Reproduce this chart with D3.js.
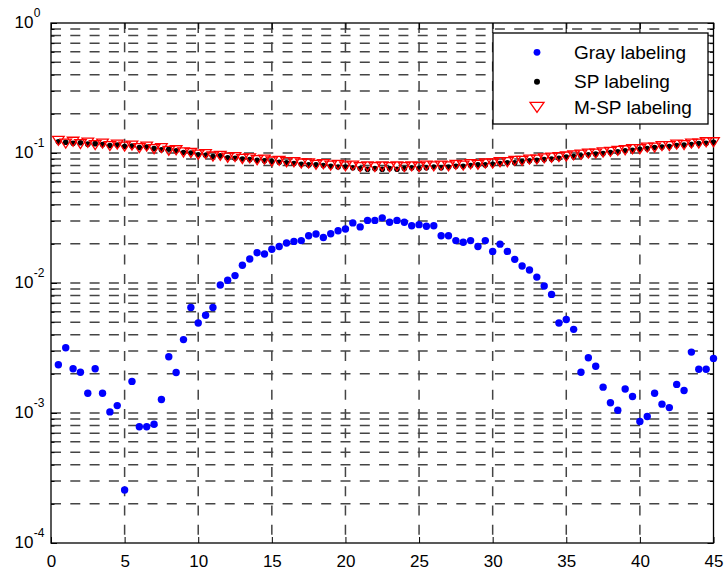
<!DOCTYPE html>
<html>
<head>
<meta charset="utf-8">
<script src="https://cdn.jsdelivr.net/npm/d3@7"></script>
<style>
  html, body { margin: 0; padding: 0; background: #fff; }
  svg { display: block; font-family: Arial, "Liberation Sans", Helvetica, sans-serif; }
</style>
</head>
<body>
<svg id="chart" width="726" height="571"></svg>
<script>
// ---------------- data ----------------
const xValues = d3.range(1, 91).map(i => i / 2); // 0.5 .. 45 (step 0.5)

const grayLabeling = [
  2.35e-3, 3.18e-3, 2.19e-3, 2.06e-3, 1.42e-3, 2.19e-3, 1.42e-3, 1.02e-3, 1.14e-3, 2.56e-4,
  1.75e-3, 7.83e-4, 7.83e-4, 8.2e-4, 1.27e-3, 2.71e-3, 2.05e-3, 3.67e-3, 6.48e-3, 4.93e-3,
  5.65e-3, 6.48e-3, 9.64e-3, 1.05e-2, 1.14e-2, 1.37e-2, 1.53e-2, 1.71e-2, 1.67e-2, 1.82e-2,
  1.91e-2, 2.03e-2, 2.09e-2, 2.12e-2, 2.31e-2, 2.38e-2, 2.24e-2, 2.39e-2, 2.52e-2, 2.60e-2,
  2.90e-2, 2.70e-2, 3.03e-2, 3.03e-2, 3.17e-2, 2.93e-2, 3.03e-2, 2.93e-2, 2.76e-2, 2.81e-2,
  2.73e-2, 2.76e-2, 2.31e-2, 2.31e-2, 2.12e-2, 2.06e-2, 2.12e-2, 1.91e-2, 2.12e-2, 1.75e-2,
  1.99e-2, 1.75e-2, 1.52e-2, 1.35e-2, 1.26e-2, 1.11e-2, 9.48e-3, 8.17e-3, 4.93e-3, 5.24e-3,
  4.40e-3, 2.06e-3, 2.66e-3, 2.29e-3, 1.58e-3, 1.20e-3, 1.05e-3, 1.53e-3, 1.34e-3, 8.6e-4,
  9.4e-4, 1.42e-3, 1.17e-3, 1.10e-3, 1.66e-3, 1.49e-3, 2.94e-3, 2.17e-3, 2.17e-3, 2.63e-3
];

const spLabeling = [
  0.122, 0.121, 0.119, 0.120, 0.117, 0.118, 0.116, 0.114, 0.115, 0.112,
  0.113, 0.110, 0.111, 0.108, 0.106, 0.107, 0.104, 0.101, 0.100, 0.097,
  0.096, 0.094, 0.095, 0.092, 0.091, 0.090, 0.089, 0.088, 0.087, 0.086,
  0.085, 0.084, 0.083, 0.082, 0.081, 0.081, 0.080, 0.079, 0.078, 0.078,
  0.077, 0.076, 0.075, 0.076, 0.075, 0.076, 0.075, 0.076, 0.077, 0.076,
  0.077, 0.078, 0.077, 0.078, 0.079, 0.079, 0.080, 0.081, 0.081, 0.082,
  0.083, 0.084, 0.084, 0.086, 0.087, 0.088, 0.089, 0.090, 0.091, 0.093,
  0.094, 0.095, 0.097, 0.098, 0.099, 0.101, 0.102, 0.104, 0.105, 0.107,
  0.108, 0.110, 0.111, 0.112, 0.114, 0.115, 0.116, 0.118, 0.119, 0.121
];

const mspLabeling = [
  0.124, 0.118, 0.122, 0.117, 0.120, 0.115, 0.118, 0.113, 0.116, 0.112,
  0.114, 0.109, 0.112, 0.107, 0.109, 0.104, 0.105, 0.101, 0.100, 0.097,
  0.098, 0.094, 0.095, 0.092, 0.093, 0.090, 0.091, 0.088, 0.089, 0.086,
  0.087, 0.085, 0.085, 0.083, 0.083, 0.081, 0.082, 0.080, 0.081, 0.079,
  0.080, 0.078, 0.079, 0.078, 0.079, 0.078, 0.079, 0.078, 0.079, 0.078,
  0.080, 0.079, 0.080, 0.079, 0.081, 0.080, 0.082, 0.081, 0.083, 0.083,
  0.085, 0.085, 0.087, 0.087, 0.089, 0.089, 0.091, 0.092, 0.093, 0.094,
  0.096, 0.097, 0.099, 0.099, 0.101, 0.102, 0.104, 0.105, 0.107, 0.107,
  0.110, 0.110, 0.113, 0.113, 0.116, 0.115, 0.118, 0.118, 0.121, 0.121
];

const seriesNames = ["Gray labeling", "SP labeling", "M-SP labeling"];
const xTicks = [0, 5, 10, 15, 20, 25, 30, 35, 40, 45];
const yDecades = [1e-4, 1e-3, 1e-2, 1e-1, 1];
const yDecadeExponents = ["-4", "-3", "-2", "-1", "0"];

// ---------------- layout ----------------
const L = 51, R = 713.5, T = 23, B = 543;
const svg = d3.select("#chart");
const x = d3.scaleLinear().domain([0, 45]).range([L, R]);
const y = d3.scaleLog().domain([1e-4, 1]).range([B, T]);

// minor values (2..9 x 10^k)
const minorVals = [];
for (let k = -4; k < 0; k++) for (let m = 2; m <= 9; m++) minorVals.push(m * Math.pow(10, k));

// ---------------- grid ----------------
const grid = svg.append("g").attr("stroke", "#444").attr("stroke-width", 1.5)
  .attr("stroke-dasharray", "10,9.3").attr("fill", "none");
grid.selectAll("line.h").data(minorVals.concat([1e-3, 1e-2, 1e-1])).enter().append("line")
  .attr("x1", L).attr("x2", R).attr("y1", d => y(d)).attr("y2", d => y(d));
grid.selectAll("line.v").data(xTicks.filter(t => t > 0 && t < 45)).enter().append("line")
  .attr("y1", T).attr("y2", B).attr("x1", d => x(d)).attr("x2", d => x(d));

// ---------------- axes (ticks inward) ----------------
const axB = svg.append("g").attr("transform", `translate(0,${B})`)
  .call(d3.axisBottom(x).tickValues(xTicks).tickSizeInner(-6).tickSizeOuter(0).tickPadding(12));
axB.select(".domain").remove();
axB.selectAll("text").attr("font-size", 17).attr("fill", "#000").attr("dy", "0.71em");
axB.selectAll("line").attr("stroke", "#000");

const axT = svg.append("g").attr("transform", `translate(0,${T})`)
  .call(d3.axisTop(x).tickValues(xTicks).tickSizeInner(-6).tickSizeOuter(0).tickFormat(""));
axT.select(".domain").remove();
axT.selectAll("line").attr("stroke", "#000");

function yAxes(gen, xpos) {
  const gMaj = svg.append("g").attr("transform", `translate(${xpos},0)`)
    .call(gen(y).tickValues(yDecades).tickSizeInner(-6).tickSizeOuter(0).tickFormat(""));
  gMaj.select(".domain").remove();
  gMaj.selectAll("line").attr("stroke", "#000");
  const gMin = svg.append("g").attr("transform", `translate(${xpos},0)`)
    .call(gen(y).tickValues(minorVals).tickSizeInner(-3.5).tickSizeOuter(0).tickFormat(""));
  gMin.select(".domain").remove();
  gMin.selectAll("line").attr("stroke", "#000");
}
yAxes(d3.axisLeft, L);
yAxes(d3.axisRight, R);

// y tick labels 10^k
const ylab = svg.append("g").attr("fill", "#000");
yDecades.forEach((v, i) => {
  ylab.append("text").attr("x", 33.5).attr("y", y(v) + 4.5)
    .attr("text-anchor", "end").attr("font-size", 17).text("10");
  ylab.append("text").attr("x", 33.8).attr("y", y(v) - 6)
    .attr("text-anchor", "start").attr("font-size", 12).text(yDecadeExponents[i]);
});

// plot box
svg.append("rect").attr("x", L).attr("y", T).attr("width", R - L).attr("height", B - T)
  .attr("fill", "none").attr("stroke", "#000").attr("stroke-width", 1.3);

// ---------------- marks ----------------
const tri = (w, h) => `M${-w},${-h / 2}L${w},${-h / 2}L0,${h / 2}Z`;

svg.append("g").selectAll("circle").data(grayLabeling).enter().append("circle")
  .attr("cx", (d, i) => x(xValues[i])).attr("cy", d => y(d)).attr("r", 3.7).attr("fill", "#0000ff");

svg.append("g").selectAll("circle").data(spLabeling).enter().append("circle")
  .attr("cx", (d, i) => x(xValues[i])).attr("cy", d => y(d)).attr("r", 2.8).attr("fill", "#000");

svg.append("g").selectAll("path").data(mspLabeling).enter().append("path")
  .attr("transform", (d, i) => `translate(${x(xValues[i])},${y(d)})`)
  .attr("d", tri(5.8, 9)).attr("fill", "none").attr("stroke", "#ff0000").attr("stroke-width", 1.3);

// ---------------- legend ----------------
const lg = svg.append("g");
lg.append("rect").attr("x", 493).attr("y", 33).attr("width", 215).attr("height", 91)
  .attr("fill", "#fff").attr("stroke", "#000").attr("stroke-width", 1.3);
const legY = [52.3, 81.7, 107.3];
const legBase = [58.5, 88.3, 114];
lg.append("circle").attr("cx", 537).attr("cy", legY[0]).attr("r", 3.4).attr("fill", "#0000ff");
lg.append("circle").attr("cx", 537).attr("cy", legY[1]).attr("r", 3).attr("fill", "#000");
lg.append("path").attr("transform", `translate(537,${legY[2]})`).attr("d", tri(7, 10))
  .attr("fill", "none").attr("stroke", "#ff0000").attr("stroke-width", 1.3);
seriesNames.forEach((n, i) => {
  lg.append("text").attr("x", 574).attr("y", legBase[i]).attr("font-size", 19).attr("fill", "#000").text(n);
});
</script>
</body>
</html>
